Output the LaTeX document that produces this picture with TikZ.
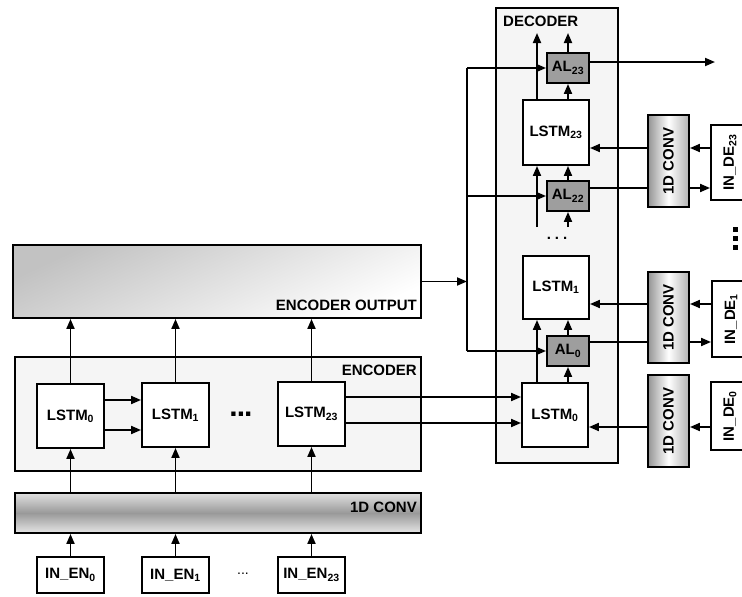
\documentclass[tikz,border=0pt]{standalone}
\usepackage{fontspec}
\setmainfont{Liberation Sans}
\usetikzlibrary{arrows.meta}
\newcommand{\sbx}[1]{\textsubscript{#1}}
\begin{document}
\begin{tikzpicture}[x=1pt,y=-1pt,
  every node/.style={font=\fontsize{15}{17}\selectfont\bfseries, inner sep=0pt},
  box/.style={draw, line width=1.9pt, fill=white, inner sep=0pt, align=center},
  albox/.style={box, fill=black!38, minimum width=42pt, minimum height=30pt},
  lstm/.style={box, minimum width=67pt, minimum height=64pt},
  inen/.style={box, minimum width=67pt, minimum height=36pt},
  dconv/.style={draw, line width=1.9pt, left color=black!42, right color=black!30, middle color=white, minimum height=92pt, minimum width=41pt},
  inde/.style={box, minimum width=38pt},
  conn/.style={line width=1.9pt},
  arr/.style={conn, -{Triangle[length=10pt,width=8pt]}},
  dotsq/.style={fill=black},
]
\useasboundingbox (0,0) rectangle (742,597);

% row coordinates
\coordinate (r62) at (0,62);
\coordinate (r148) at (0,148);
\coordinate (r188) at (0,188);
\coordinate (r304) at (0,304);
\coordinate (r342) at (0,342);
\coordinate (r427) at (0,427);
\coordinate (r397) at (0,397);
\coordinate (r423) at (0,423);
\coordinate (r400) at (0,400);
\coordinate (r430) at (0,430);
\coordinate (rtop) at (0,33);
\coordinate (rdots) at (0,227);
\coordinate (c537) at (537,0);
\coordinate (bus) at (467,0);
\coordinate (outend) at (715,62);

% ---------------- encoder side ----------------
\node[draw, line width=1.9pt, top color=black!24, bottom color=white, shading angle=25,
      minimum width=408pt, minimum height=73pt] (encout) at (217,281.5) {};
\node[anchor=base east] (encoutlbl) at (417,310) {ENCODER OUTPUT};

\node[box, fill=black!4, minimum width=406pt, minimum height=114pt] (enc) at (218,414) {};
\node[anchor=base east] (enclbl) at (417,375) {ENCODER};

\node[draw, line width=1.9pt, top color=black!12, bottom color=black!10, middle color=black!40,
      minimum width=406pt, minimum height=40pt] (conv) at (218,513) {};
\node[anchor=base east] (convlbl) at (417,512) {1D CONV};

\node[lstm] (e0) at (70.5,416) {LSTM\sbx{0}};
\node[lstm] (e1) at (175.5,415) {LSTM\sbx{1}};
\node[lstm] (e23) at (311.5,414) {LSTM\sbx{23}};
\node (edots) at (241,414) {\fontsize{30}{30}\selectfont .\kern-1pt.\kern-1pt.};

\node[inen] (in0) at (70.5,575) {IN\_EN\sbx{0}};
\node[inen] (in1) at (175.5,575) {IN\_EN\sbx{1}};
\node[inen] (in23) at (311.5,575) {IN\_EN\sbx{23}};
\node (indots) at (243,574) {\mdseries\fontsize{14}{14}\selectfont ...};

\foreach \e/\i in {e0/in0, e1/in1, e23/in23}{
  \draw[arr] (\i.north) -- (\i.north |- conv.south);
  \draw[arr] (conv.north -| \e) -- (\e.south);
  \draw[arr] (\e.north) -- (\e.north |- encout.south);
}
\draw[arr] (e0.east |- r400) -- (e1.west |- r400);
\draw[arr] (e0.east |- r430) -- (e1.west |- r430);

% ---------------- decoder ----------------
\node[box, fill=black!4, minimum width=122pt, minimum height=455pt] (dec) at (557,235.5) {};
\node[anchor=base west] (declbl) at (503,27) {DECODER};

\node[albox] (al23) at (568,68) {AL\sbx{23}};
\node[lstm, minimum width=66pt, minimum height=65pt] (d23) at (556,132.5) {LSTM\sbx{23}};
\node[albox] (al22) at (568,196) {AL\sbx{22}};
\node (ddots) at (557,238) {\fontsize{15}{15}\selectfont .\hspace{4pt}.\hspace{4pt}.};
\node[lstm, minimum width=66pt, minimum height=63pt] (d1) at (556,287.5) {LSTM\sbx{1}};
\node[albox] (al0) at (568,351) {AL\sbx{0}};
\node[lstm, minimum width=66pt] (d0) at (555,415) {LSTM\sbx{0}};

\draw[arr] (d0.north -| c537) -- (d1.south -| c537);
\draw[arr] (d0.north -| al0) -- (al0.south);
\draw[arr] (al0.north) -- (al0.north |- d1.south);
\draw[arr] (c537 |- rdots) -- (d23.south -| c537);
\draw[arr] (al22.south |- rdots) -- (al22.south);
\draw[arr] (al22.north) -- (al22.north |- d23.south);
\draw[arr] (d23.north -| al23) -- (al23.south);
\draw[arr] (d23.north -| c537) -- (c537 |- rtop);
\draw[arr] (al23.north) -- (al23.north |- rtop);
\draw[arr] (al23.east |- r62) -- (outend);

% bus from encoder output
\draw[conn] (bus |- al23) -- (bus |- al0);
\draw[arr] (bus |- al23) -- (al23.west);
\draw[arr] (bus |- al22) -- (al22.west);
\draw[arr] (bus |- al0) -- (al0.west);
\draw[arr] (encout.east) -- (bus |- encout.east);

% encoder to decoder
\draw[arr] (e23.east |- r397) -- (d0.west |- r397);
\draw[arr] (e23.east |- r423) -- (d0.west |- r423);

% ---------------- decoder inputs ----------------
\node[dconv] (cd23) at (668.5,161) {\rotatebox{90}{1D CONV}};
\node[dconv, minimum height=91pt] (cd1) at (668.5,317.5) {\rotatebox{90}{1D CONV}};
\node[dconv] (cd0) at (668.5,421) {\rotatebox{90}{1D CONV}};

\node[inde, minimum height=75pt] (ind23) at (730,162.5) {\rotatebox{90}{IN\_DE\sbx{23}}};
\node[inde, minimum height=76pt] (ind1) at (731,319) {\rotatebox{90}{IN\_DE\sbx{1}}};
\node[inde, minimum height=68pt] (ind0) at (730,416) {\rotatebox{90}{IN\_DE\sbx{0}}};

% vertical dots
\fill[dotsq] (733,227) rectangle (737.5,231.5);
\fill[dotsq] (733,236) rectangle (737.5,240.5);
\fill[dotsq] (733,245) rectangle (737.5,249.5);

\draw[arr] (ind23.west |- r148) -- (cd23.east |- r148);
\draw[arr] (cd23.west |- r148) -- (d23.east |- r148);
\draw[conn] (al22.east |- r188) -- (cd23.west |- r188);
\draw[arr] (cd23.east |- r188) -- (ind23.west |- r188);

\draw[arr] (ind1.west |- r304) -- (cd1.east |- r304);
\draw[arr] (cd1.west |- r304) -- (d1.east |- r304);
\draw[conn] (al0.east |- r342) -- (cd1.west |- r342);
\draw[arr] (cd1.east |- r342) -- (ind1.west |- r342);

\draw[arr] (ind0.west |- r427) -- (cd0.east |- r427);
\draw[arr] (cd0.west |- r427) -- (d0.east |- r427);
\end{tikzpicture}
\end{document}
